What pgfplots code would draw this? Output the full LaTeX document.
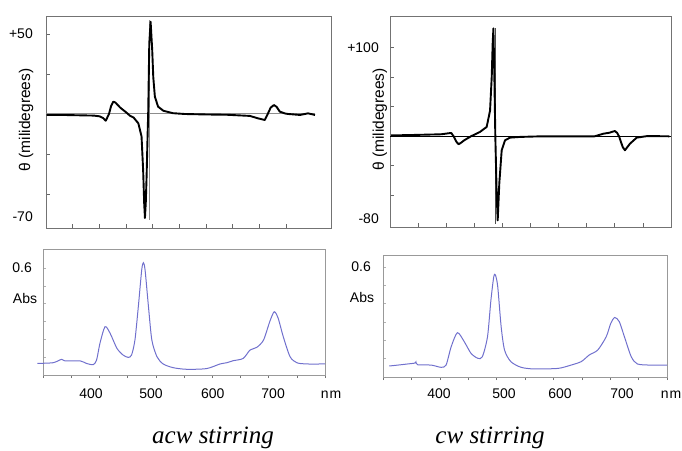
\documentclass[border=0pt]{standalone}
\usepackage{pgfplots}
\pgfplotsset{compat=1.18}
\usepackage{fontspec}
\setmainfont{Liberation Serif}
\newfontfamily\arial{Liberation Sans}
\definecolor{abscol}{RGB}{112,112,205}
\newcommand{\tfont}{\arial\fontsize{14}{16}\selectfont}
\begin{document}
\begin{tikzpicture}
\useasboundingbox (0,0) rectangle (682pt,450pt);
% ---------------- top left: CD acw ----------------
\begin{axis}[at={(46pt,222pt)}, anchor=south west, scale only axis,
  width=285pt, height=212pt,
  xmin=300, xmax=834, ymin=-71.25, ymax=61.25,
  axis line style={draw=black!55, line width=0.9pt},
  tick align=inside, xtick pos=bottom, ytick pos=left,
  major tick length=4pt, tick style={black!60, line width=0.8pt},
  xtick={350,400,...,750}, xticklabels={},
  ytick={-50,-25,0,25,50}, yticklabels={,,,,+50},
  extra y ticks={-64}, extra y tick labels={-70},
  extra y tick style={major tick length=0pt},
  /pgf/number format/assume math mode=true,
  yticklabel style={font=\tfont, inner sep=0pt, xshift=-13pt},
  ylabel={θ (milidegrees)},
  ylabel style={at={(axis description cs:-0.07,0.51)}, anchor=center, font=\arial\fontsize{15.5}{17}\selectfont},
]
\addplot[black!45, line width=1pt] coordinates {(300,0) (804,0)};
\addplot[black!45, line width=1pt] coordinates {(493.5,58.7) (493.5,-66)};
\addplot[black, line width=1.9pt, line join=round] coordinates {
(301,-0.6) (330,-0.6) (360,-0.8) (390,-1.0) (401,-1.5) (407,-2.5) (412,-4.2)
(418,0) (422,5) (426,7.7) (430,7.2) (439,4.0) (451,0.8) (457,-1.0) (464,-2.2)
(473,-5.8) (479,-14) (482,-35) (484,-56) (485.4,-65) (487,-55) (488.5,-39)
(490,-18) (491.6,2.5) (493.5,44) (496,57.7) (499,40) (501,23) (504,10.8)
(510,4.6) (520,2.0) (526,1.5) (538,0.5) (560,0) (600,-0.3) (640,-0.5)
(682,-1.2) (697,-2.7) (710,-3.75) (716,0.4) (721,4) (727,5.6) (732,4.5)
(738,1.5) (748,0.3) (754,0) (776,-0.6) (791,0.4) (804,-0.6)};
\end{axis}
% ---------------- top right: CD cw ----------------
\begin{axis}[at={(390pt,223pt)}, anchor=south west, scale only axis,
  width=281pt, height=211pt,
  xmin=300, xmax=800, ymin=-102.5, ymax=136,
  axis line style={draw=black!55, line width=0.9pt},
  tick align=inside, xtick pos=bottom, ytick pos=left,
  major tick length=4pt, tick style={black!60, line width=0.8pt},
  xtick={350,400,...,750}, xticklabels={},
  ytick={-66.7,-33.3,0,33.3,66.7,100}, yticklabels={,,,,,+100},
  extra y ticks={-93}, extra y tick labels={-80},
  extra y tick style={major tick length=0pt},
  /pgf/number format/assume math mode=true,
  yticklabel style={font=\tfont, inner sep=0pt, xshift=-11pt},
  ylabel={θ (milidegrees)},
  ylabel style={at={(axis description cs:-0.036,0.51)}, anchor=center, font=\arial\fontsize{15.5}{17}\selectfont},
]
\addplot[black, line width=0.8pt] coordinates {(300,0) (800,0)};
\addplot[black!70, line width=0.9pt] coordinates {(487.4,122) (487.4,-99)};
\addplot[black, line width=1.9pt, line join=round] coordinates {
(302,1) (340,1.5) (391,2.3) (405,3.5) (409,3.8) (414,-0.8) (418,-6) (422,-9)
(427,-7) (432,-4.5) (444,0) (460,4.9) (472,10.6) (478,29) (481,67)
(482.7,105) (484,122) (485.7,67) (487.4,0) (489.8,-65) (491.6,-95)
(494.5,-53) (498.7,-16) (504.6,-4.5) (513.5,-1.5) (531,-0.7) (569,0)
(664,0) (680,3) (690,4) (700,6) (704,4) (707.5,0) (714,-12) (718,-15.8)
(727,-8.3) (739,-1.5) (758,0.3) (797,0)};
\end{axis}
% ---------------- bottom left: Abs acw ----------------
\begin{axis}[at={(43pt,75pt)}, anchor=south west, scale only axis,
  width=282pt, height=126pt, clip=false,
  xmin=300, xmax=800, ymin=0, ymax=0.707,
  axis line style={draw=black!40, line width=0.8pt},
  xtick pos=bottom, ytick pos=left,
  x tick style={black!55, line width=0.6pt}, y tick style={black!30, line width=0.6pt},
  xtick align=outside, ytick align=inside, major tick length=3pt,
  xtick={300,350,...,800}, xticklabels={},
  extra x ticks={385,491.5,601,708}, extra x tick labels={400,500,600,700},
  extra x tick style={major tick length=0pt},
  ytick={0,0.1,0.2,0.3,0.4,0.5,0.6}, yticklabels={,,,,,,0.6},
  /pgf/number format/assume math mode=true,
  yticklabel style={font=\tfont, inner sep=0pt, xshift=-11pt},
  xticklabel style={font=\tfont, inner sep=0pt, anchor=north, yshift=-14pt},
]
\addplot[abscol, line width=1pt, smooth, tension=0.45] coordinates {
(290,0.065) (318,0.069) (333,0.088) (339,0.079) (366,0.079) (377,0.065)
(389,0.058) (395,0.084) (401,0.178) (410,0.271) (419,0.234) (431,0.150)
(442,0.112) (451,0.099) (457,0.112) (463,0.196) (469,0.383) (475,0.589)
(478,0.630) (481,0.589) (487,0.383) (493,0.196) (502,0.103) (513,0.062)
(531,0.041) (555,0.032) (590,0.036) (614,0.062) (626,0.069) (637,0.080)
(655,0.093) (667,0.140) (679,0.155) (691,0.196) (702,0.299) (710,0.355)
(717,0.318) (726,0.215) (738,0.103) (750,0.069) (767,0.062) (800,0.062)};
\end{axis}
% ---------------- bottom right: Abs cw ----------------
\begin{axis}[at={(383pt,73pt)}, anchor=south west, scale only axis,
  width=284pt, height=122pt,
  xmin=300, xmax=800, ymin=0, ymax=0.666,
  axis line style={draw=black!40, line width=0.8pt},
  xtick pos=bottom, ytick pos=left,
  x tick style={black!55, line width=0.6pt}, y tick style={black!30, line width=0.6pt},
  xtick align=outside, ytick align=inside, major tick length=3pt,
  xtick={300,350,...,800}, xticklabels={},
  extra x ticks={398.6,513,611.6,720.8}, extra x tick labels={400,500,600,700},
  extra x tick style={major tick length=0pt},
  ytick={0,0.1,0.2,0.3,0.4,0.5,0.6}, yticklabels={,,,,,,0.6},
  /pgf/number format/assume math mode=true,
  yticklabel style={font=\tfont, inner sep=0pt, xshift=-12pt},
  xticklabel style={font=\tfont, inner sep=0pt, anchor=north, yshift=-12pt},
]
\addplot[abscol, line width=1pt, smooth, tension=0.45] coordinates {
(311,0.060) (326,0.065) (343,0.071) (356,0.076) (358,0.083) (361,0.067)
(385,0.065) (402,0.053) (411,0.065) (420,0.165) (431,0.242) (443,0.193)
(455,0.129) (467,0.102) (475,0.111) (484,0.220) (490,0.420) (495,0.547)
(498,0.556) (502,0.493) (508,0.275) (514,0.147) (525,0.084) (543,0.053)
(566,0.044) (608,0.047) (631,0.065) (649,0.084) (663,0.120) (678,0.147)
(693,0.220) (701,0.293) (708,0.325) (716,0.302) (725,0.220) (737,0.111)
(748,0.071) (772,0.065) (800,0.065)};
\end{axis}
% ---------------- free text ----------------
\node[font=\tfont] at (25pt,152pt) {Abs};
\node[font=\tfont] at (362pt,153pt) {Abs};
\node[font=\tfont] at (331pt,55pt) {n\kern1pt m};
\node[font=\tfont] at (671pt,55pt) {n\kern1pt m};
\node[anchor=base, font=\fontsize{25}{30}\selectfont\itshape] at (213pt,7pt) {acw stirring};
\node[anchor=base, font=\fontsize{25}{30}\selectfont\itshape] at (490pt,7pt) {cw stirring};
\end{tikzpicture}
\end{document}
